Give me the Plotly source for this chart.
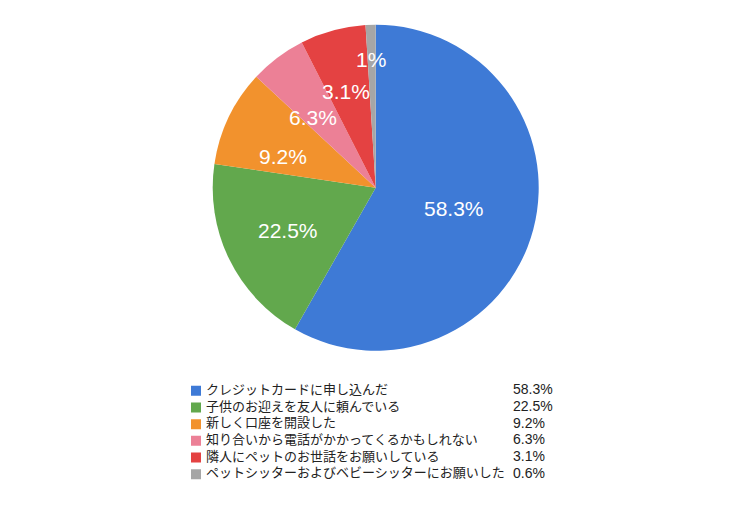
import math
import plotly.graph_objects as go

# ===== data =====
labels = ['クレジットカードに申し込んだ',
          '子供のお迎えを友人に頼んでいる',
          '新しく口座を開設した',
          '知り合いから電話がかかってくるかもしれない',
          '隣人にペットのお世話をお願いしている',
          'ペットシッターおよびベビーシッターにお願いした']
# slice sizes as drawn (measured from slice angles)
shares = [58.3, 19.1, 9.6, 5.6, 6.5, 1.0]
# text printed on the slices and in the legend
slice_text = ['58.3%', '22.5%', '9.2%', '6.3%', '3.1%', '1%']
legend_pct = ['58.3%', '22.5%', '9.2%', '6.3%', '3.1%', '0.6%']

colors = ['rgb(62,122,214)', 'rgb(98,168,77)', 'rgb(242,146,45)',
          'rgb(236,128,150)', 'rgb(228,66,66)', 'rgb(166,166,166)']

W, H = 750, 509
FONT = 'Liberation Sans, Noto Sans CJK JP, sans-serif'

# pie placement (pixels)
pie_top, pie_bottom = 24.7, 350.7
cx = 375.7
cy = (pie_top + pie_bottom) / 2
R = (pie_bottom - pie_top) / 2
label_r = [0.5, 0.6, 0.63, 0.64, 0.70, 0.87]   # label distance from centre, fraction of radius

fig = go.Figure()

fig.add_trace(go.Pie(
    labels=labels,
    values=shares,
    sort=False,
    direction='clockwise',
    rotation=0,
    marker=dict(colors=colors, line=dict(width=0)),
    textinfo='none',
    hoverinfo='label+percent',
    showlegend=False,
    domain=dict(x=[(cx - 225) / W, (cx + 225) / W],
                y=[1 - pie_bottom / H, 1 - pie_top / H]),
))

# slice labels, placed at each slice's middle angle
total = sum(shares)
cum = 0
for s, txt, f in zip(shares, slice_text, label_r):
    mid = math.radians(360 * (cum + s / 2) / total)
    cum += s
    px = cx + R * f * math.sin(mid)
    py = cy - R * f * math.cos(mid)
    fig.add_annotation(x=px / W, y=1 - py / H, xref='paper', yref='paper',
                       text=txt, showarrow=False,
                       font=dict(family=FONT, size=21, color='white'))

# ===== legend drawn as a small scatter panel =====
rows = list(range(len(labels)))
fig.add_trace(go.Scatter(
    x=[196] * len(rows), y=rows, mode='markers',
    marker=dict(symbol='square', size=10, color=colors),
    xaxis='x2', yaxis='y2', showlegend=False, hoverinfo='skip'))
fig.add_trace(go.Scatter(
    x=[206] * len(rows), y=rows, mode='text', text=labels,
    textposition='middle right',
    textfont=dict(family=FONT, size=13, color='#222222'),
    xaxis='x2', yaxis='y2', showlegend=False, hoverinfo='skip'))
fig.add_trace(go.Scatter(
    x=[513] * len(rows), y=rows, mode='text', text=legend_pct,
    textposition='middle right',
    textfont=dict(family=FONT, size=14, color='#222222'),
    xaxis='x2', yaxis='y2', showlegend=False, hoverinfo='skip'))

leg_top, leg_bottom = 382.5, 482.5
fig.update_layout(
    width=W, height=H,
    margin=dict(l=0, r=0, t=0, b=0),
    paper_bgcolor='white', plot_bgcolor='white',
    font=dict(family=FONT),
    xaxis2=dict(domain=[0, 1], range=[0, W], visible=False, fixedrange=True),
    yaxis2=dict(domain=[1 - leg_bottom / H, 1 - leg_top / H],
                range=[len(rows) - 0.5, -0.5], visible=False, fixedrange=True,
                anchor='x2'),
)

fig.write_html('out.html', config={'displayModeBar': False},
               post_script="document.body.style.margin='0';")
